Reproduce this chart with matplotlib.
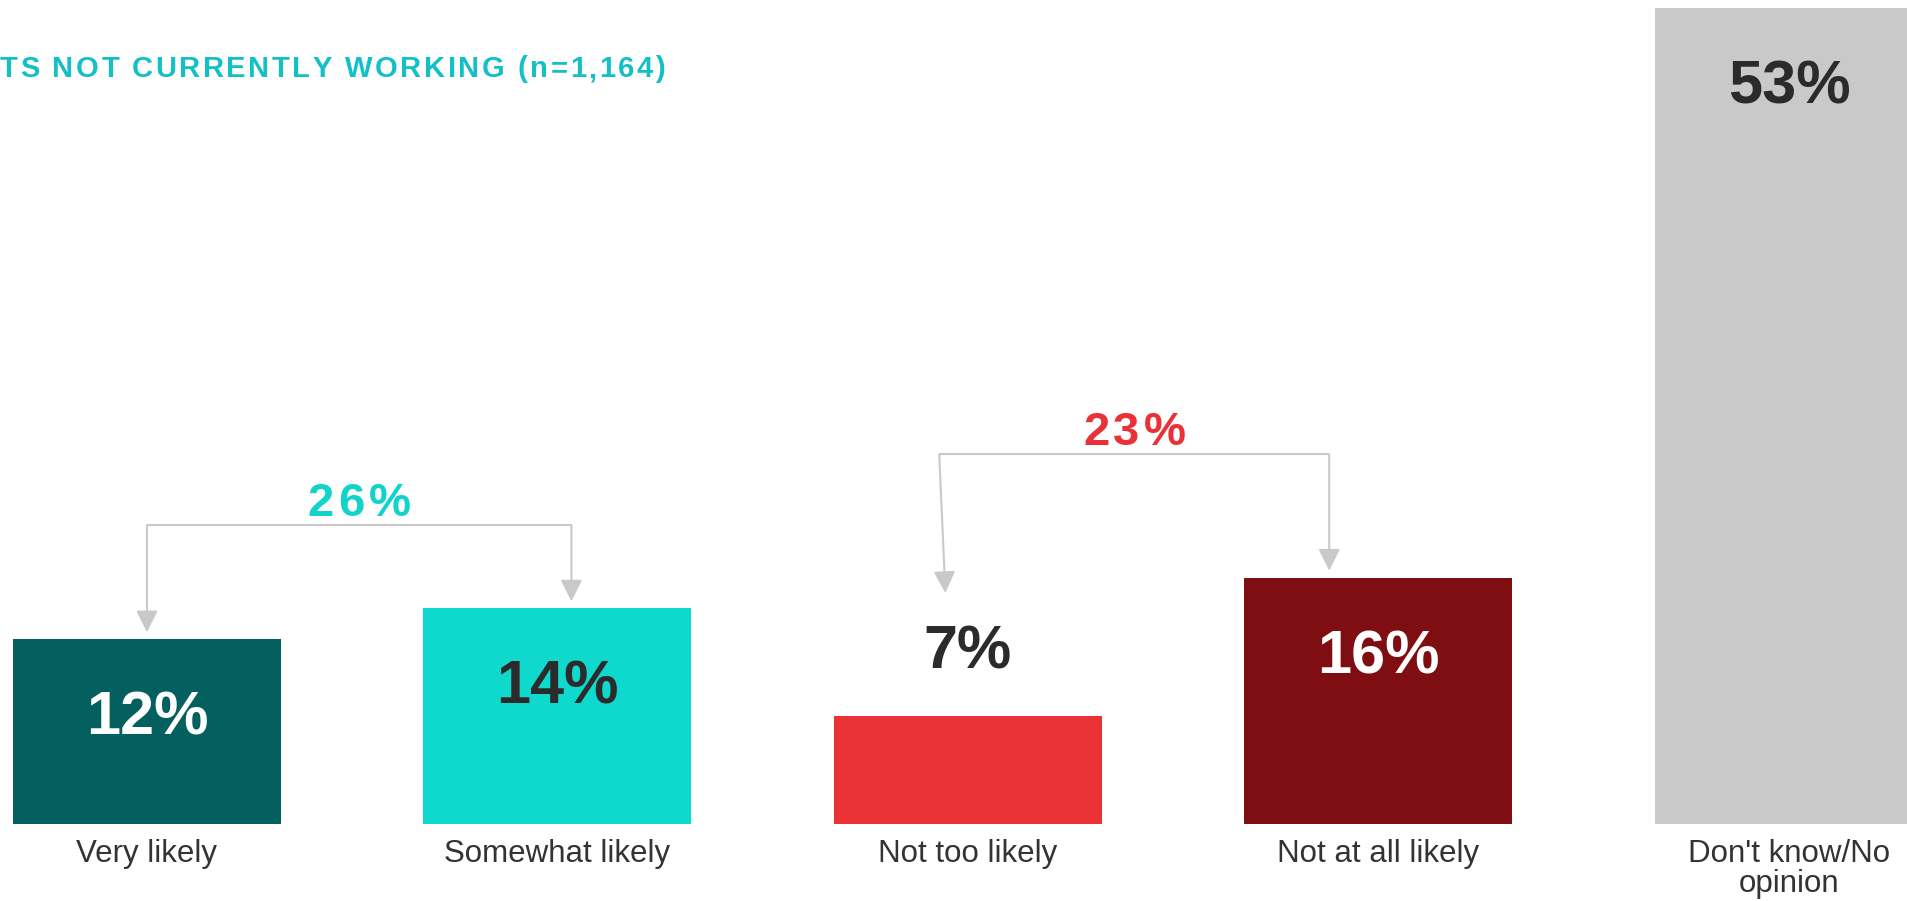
import matplotlib
matplotlib.use('Agg')
import matplotlib.pyplot as plt
from matplotlib.transforms import IdentityTransform

categories = ['Very likely', 'Somewhat likely', 'Not too likely', 'Not at all likely', "Don't know/No\nopinion"]
values = [12, 14, 7, 16, 53]
bar_colors = ['#03605F', '#0FD8CD', '#E93236', '#7E0E11', '#C9C9C9']
label_colors = ['white', '#2B2B2B', '#2B2B2B', 'white', '#2B2B2B']
label_outside = [False, False, True, False, False]

net_groups = [(0, 1), (2, 3)]
net_values = [26, 23]
net_colors = ['#12D3CB', '#E83237']
net_heights = [19.4, 24.0]

title = 'TS NOT CURRENTLY WORKING (n=1,164)'

plt.rcParams['font.family'] = ['Liberation Sans', 'DejaVu Sans']

fig = plt.figure(figsize=(19.08, 9.01), dpi=100)
ax = fig.add_axes([0, 0, 1, 1])
ax.set_xlim(-0.358, 4.29)
ax.set_ylim(-5, 53.5)
ax.axis('off')

x = list(range(len(values)))
ax.bar(x, values, width=0.653, color=bar_colors)

for i, v in enumerate(values):
    y = v + 3.1 if label_outside[i] else v - 6.2
    ax.text(i, y, f'{v}%', ha='center', va='baseline', fontsize=44,
            fontweight='bold', color=label_colors[i])
    ax.text(i, -0.95, categories[i], ha='center', va='top', fontsize=22.5,
            color='#333333', linespacing=1.02)

renderer = fig.canvas.get_renderer()


def advance(c, **kw):
    t1 = fig.text(0, 0, 'H' + c + 'H', **kw)
    t2 = fig.text(0, 0, 'HH', **kw)
    w = t1.get_window_extent(renderer).width - t2.get_window_extent(renderer).width
    t1.remove()
    t2.remove()
    return w


def spaced_text(px, py, s, gap, ha='center', **kw):
    # letter-spaced text, px/py in display pixels, py is the baseline
    advs = [advance(c, **kw) for c in s]
    total = sum(advs) + gap * (len(s) - 1)
    if ha == 'center':
        start = px - total / 2
    elif ha == 'right':
        start = px - total
    else:
        start = px
    for c, a in zip(s, advs):
        fig.text(start, py, c, transform=IdentityTransform(), ha='left',
                 va='baseline', **kw)
        start += a + gap


# net brackets
left_dx = [0.0, -0.07]
left_tip_dx = [0.0, -0.055]
right_dx = [0.034, -0.12]
line_col = '#C9C9C9'


def tip_y(i):
    if label_outside[i]:
        return values[i] + 8.0
    return values[i] + 0.45


for g, (a, b) in enumerate(net_groups):
    h = net_heights[g]
    xl = a + left_dx[g]
    xr = b + right_dx[g]
    ax.plot([xl, xr], [h, h], color=line_col, lw=1.5, solid_capstyle='butt')
    ax.annotate('', xy=(a + left_tip_dx[g], tip_y(a)), xytext=(xl, h),
                arrowprops=dict(arrowstyle='-|>', color=line_col, lw=1.5,
                                mutation_scale=33, shrinkA=0, shrinkB=0))
    ax.annotate('', xy=(xr, tip_y(b)), xytext=(xr, h),
                arrowprops=dict(arrowstyle='-|>', color=line_col, lw=1.5,
                                mutation_scale=33, shrinkA=0, shrinkB=0))
    cx, cy = ax.transData.transform(((xl + xr) / 2, h + 0.6))
    spaced_text(cx, cy, f'{net_values[g]}%', 4, ha='center', fontsize=34,
                fontweight='bold', color=net_colors[g])

spaced_text(665, 824, title, 2.5, ha='right', fontsize=21,
            fontweight='bold', color='#12C0C6')

fig.savefig('out.png', dpi=100)
